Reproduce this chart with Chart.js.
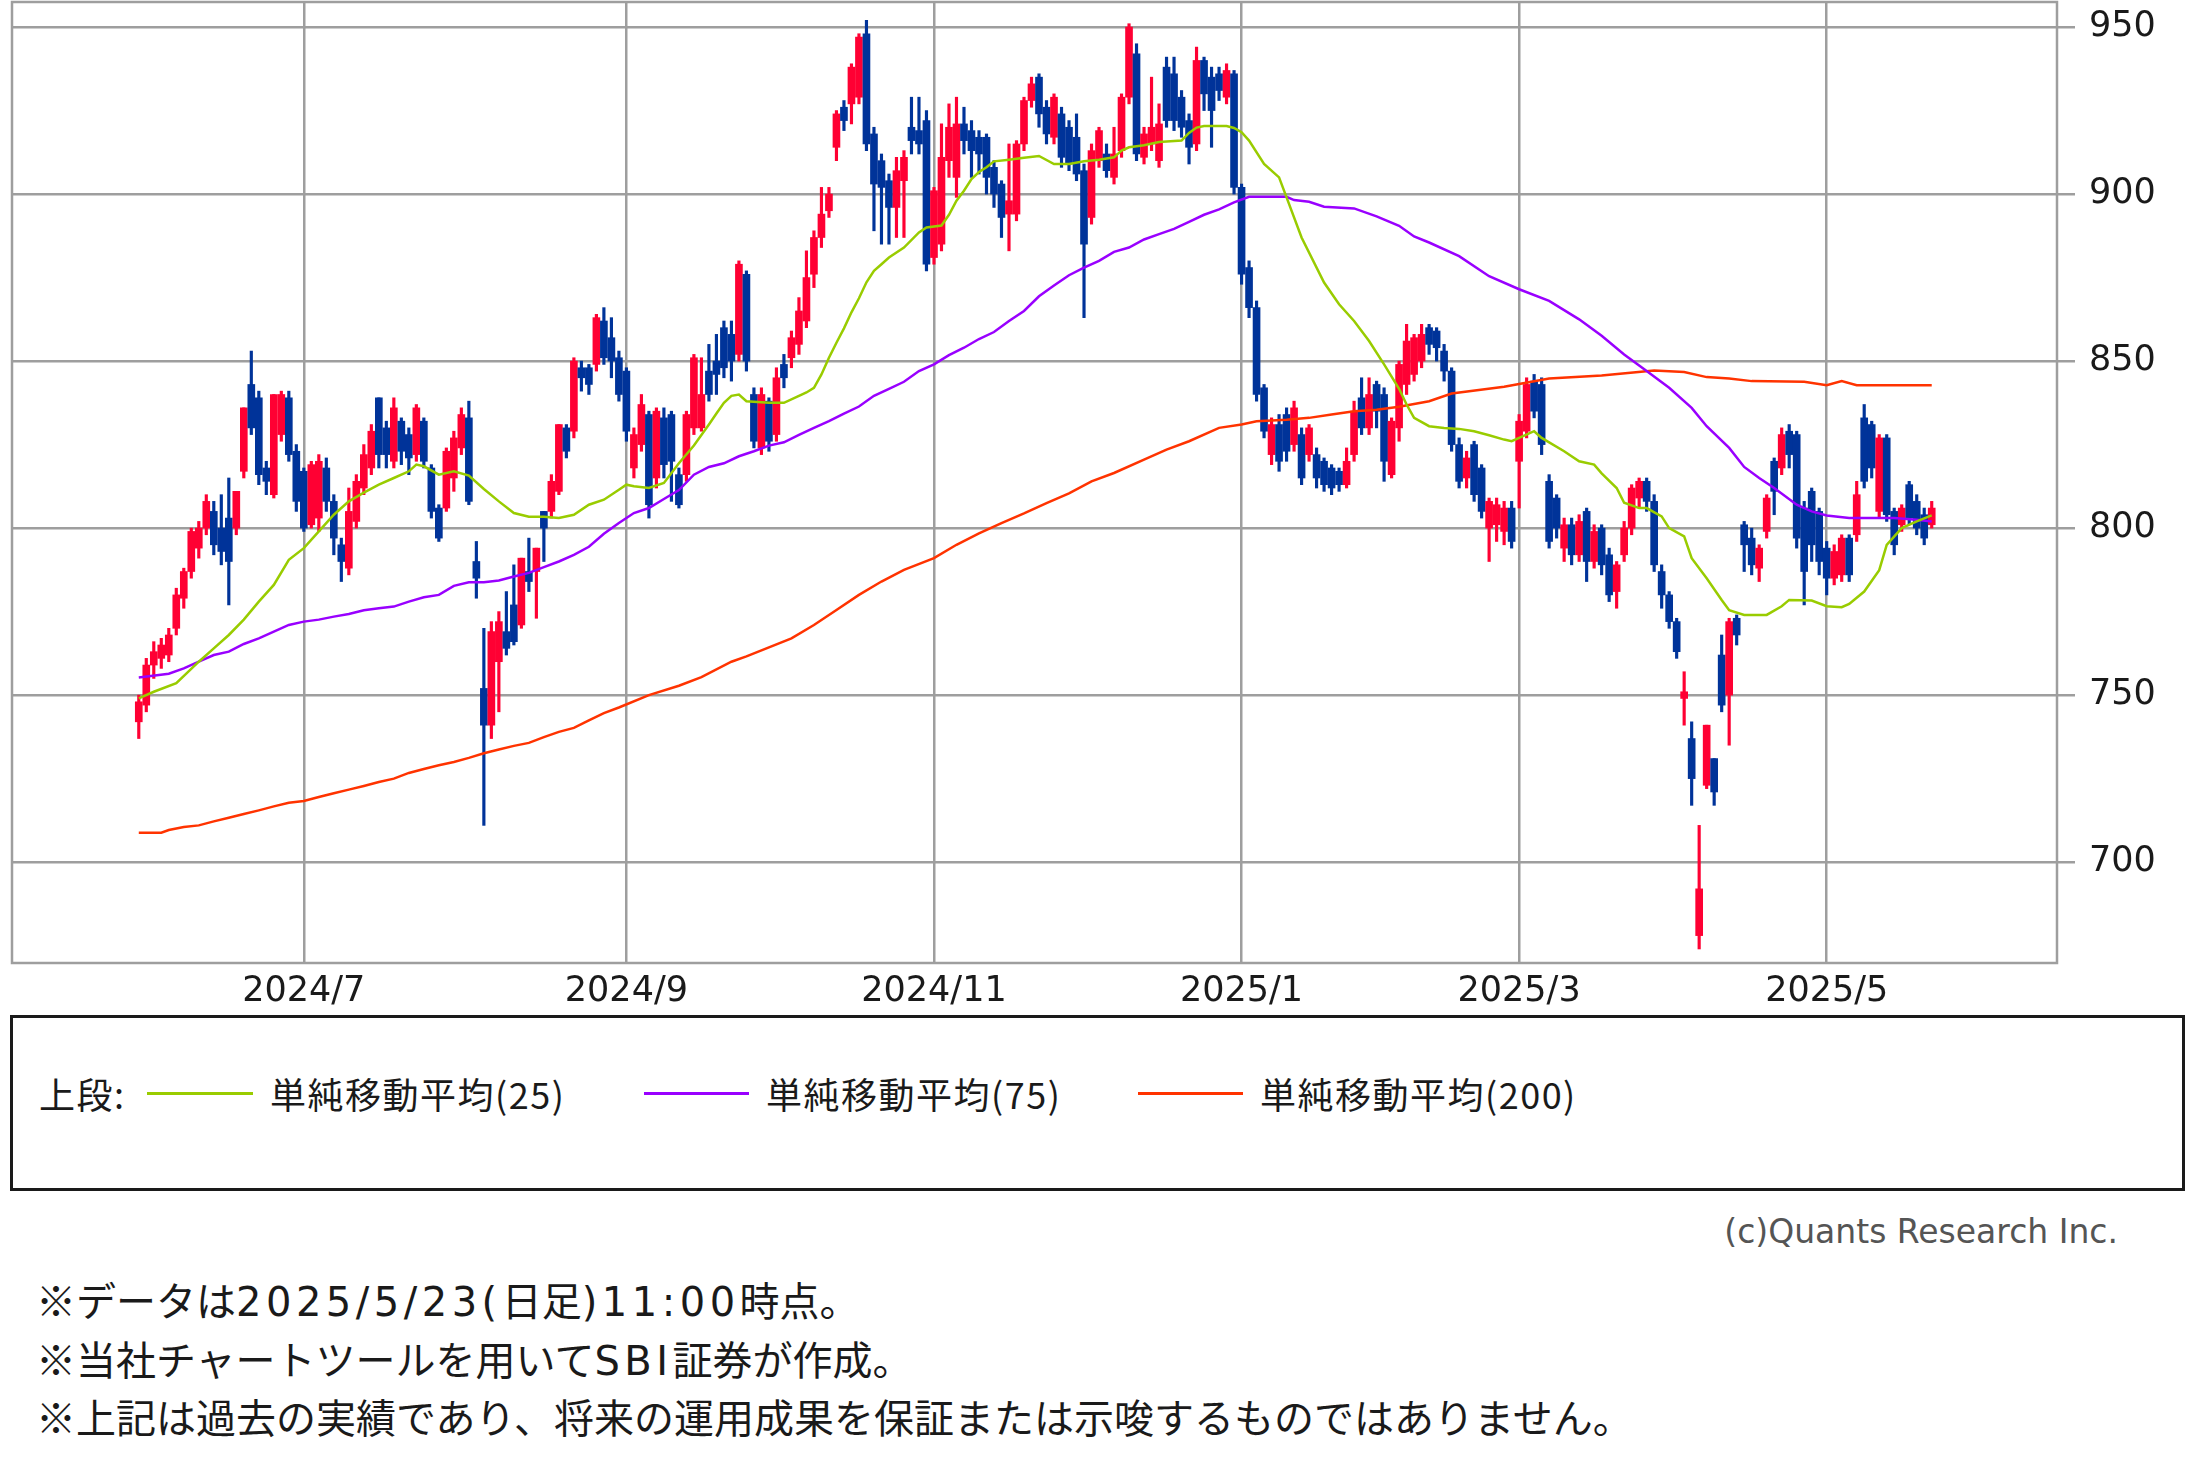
<!DOCTYPE html>
<html lang="ja">
<head>
<meta charset="utf-8">
<script src="https://cdn.jsdelivr.net/npm/chart.js@4.4.1/dist/chart.umd.min.js"></script>
<style>
  html, body { margin: 0; padding: 0; background: #fff; }
  body { width: 2193px; height: 1483px; position: relative; overflow: hidden; }
  #wrap { position: absolute; left: 0; top: 0; width: 2193px; height: 1010px; }
  .abs { position: absolute; white-space: nowrap; }
  #legendBox { position: absolute; left: 10px; top: 1015px; width: 2175px; height: 176px;
               box-sizing: border-box; border: 3px solid #1a1a1a; }
  .lg { font-family: "Noto Sans CJK JP", sans-serif; font-size: 36px; color: #1a1a1a;
        line-height: 44px; top: 1071px; letter-spacing: 1.5px; }
  .sw { height: 3px; top: 1092px; }
  #copy { font-family: "DejaVu Sans", sans-serif; font-size: 33px; color: #555;
          right: 75px; top: 1212px; line-height: 40px; }
  #notes { left: 36px; top: 1272px; font-family: "Noto Sans CJK JP", sans-serif;
           font-size: 40px; line-height: 55.5px; color: #1a1a1a; }
  #notes .lat { font-family: "DejaVu Sans", sans-serif; letter-spacing: 4.5px; }
</style>
</head>
<body>
<div id="wrap"><canvas id="c" width="2193" height="1010"></canvas></div>

<div id="legendBox"></div>
<div class="abs lg" style="left:39px">上段:</div>
<div class="abs sw" style="left:147px;width:106px;background:#99cc00"></div>
<div class="abs lg" style="left:270px">単純移動平均(25)</div>
<div class="abs sw" style="left:644px;width:105px;background:#9900ff"></div>
<div class="abs lg" style="left:766px">単純移動平均(75)</div>
<div class="abs sw" style="left:1138px;width:105px;background:#ff3300"></div>
<div class="abs lg" style="left:1260px">単純移動平均(200)</div>

<div id="copy" class="abs">(c)Quants Research Inc.</div>

<div id="notes" class="abs">
  <div>※データは<span class="lat">2025/5/23(</span>日足<span class="lat">)11:00</span>時点。</div>
  <div>※当社チャートツールを用いて<span class="lat">SBI</span>証券が作成。</div>
  <div>※上記は過去の実績であり、将来の運用成果を保証または示唆するものではありません。</div>
</div>

<script>
// daily candles, trading day index 0 = 2024/5/30 ... 239 = 2025/5/23
const opens = [
  742, 747, 759, 761, 762, 770, 779, 787, 794, 800,
  805, 800, 803, 800, 817, 843, 839, 818, 810, 828,
  839, 823, 817, 801, 803, 818, 808, 795, 788, 802,
  812, 818, 839, 830, 820, 832, 828, 822, 832, 818,
  806, 806, 815, 824, 833, 790, 752, 741, 760, 769,
  777, 771, 787, 787, 805, 805, 811, 830, 829, 848,
  848, 849, 862, 857, 851, 847, 818, 825, 834, 815,
  833, 834, 816, 816, 830, 830, 847, 850, 860, 858,
  852, 876, 840, 824, 838, 828, 849, 851, 855, 862,
  876, 887, 895, 914, 926, 927, 929, 948, 918, 910,
  904, 896, 904, 920, 919, 922, 881, 885, 910, 905,
  921, 919, 917, 917, 908, 903, 894, 894, 915, 928,
  935, 926, 917, 924, 920, 917, 907, 893, 910, 912,
  905, 913, 929, 942, 911, 915, 910, 938, 936, 929,
  922, 915, 940, 935, 936, 929, 936, 902, 878, 866,
  842, 822, 831, 834, 825, 828, 822, 822, 820, 818,
  817, 813, 822, 839, 830, 843, 840, 816, 830, 843,
  846, 850, 860, 859, 853, 847, 825, 815, 825, 818,
  800, 801, 799, 806, 820, 829, 844, 843, 814, 809,
  794, 801, 792, 805, 790, 800, 792, 781, 792, 800,
  809, 814, 808, 787, 780, 772, 749, 737, 678, 723,
  731, 762, 750, 773, 801, 797, 788, 799, 820, 818,
  829, 828, 806, 811, 805, 794, 785, 786, 797, 798,
  833, 831, 805, 827, 805, 801, 813, 808, 804, 801
];
const highs = [
  750, 761, 766, 767, 770, 782, 788, 800, 802, 810,
  808, 810, 815, 811, 836, 853, 841, 820, 840, 841,
  841, 825, 818, 820, 822, 821, 810, 797, 812, 816,
  825, 831, 839, 832, 839, 833, 830, 837, 833, 819,
  807, 824, 829, 836, 838, 796, 770, 772, 775, 781,
  789, 791, 797, 794, 805, 816, 831, 831, 851, 850,
  849, 864, 866, 863, 853, 848, 830, 840, 835, 836,
  836, 835, 818, 835, 852, 851, 855, 858, 862, 862,
  880, 877, 842, 842, 839, 848, 852, 859, 869, 883,
  889, 902, 902, 925, 928, 939, 948, 952, 920, 912,
  906, 911, 913, 929, 929, 925, 902, 921, 927, 929,
  926, 922, 919, 918, 910, 904, 915, 916, 929, 935,
  936, 928, 930, 926, 922, 924, 909, 915, 920, 915,
  920, 930, 951, 945, 920, 935, 927, 941, 941, 931,
  924, 944, 941, 938, 938, 939, 937, 903, 880, 868,
  843, 833, 834, 836, 838, 830, 831, 824, 821, 819,
  818, 824, 838, 845, 845, 844, 842, 833, 850, 861,
  858, 861, 861, 860, 855, 848, 827, 823, 826, 819,
  809, 809, 808, 808, 834, 845, 846, 845, 816, 810,
  803, 803, 804, 806, 801, 801, 794, 790, 802, 813,
  815, 815, 810, 789, 781, 773, 757, 742, 711, 741,
  731, 768, 773, 774, 802, 800, 795, 810, 821, 830,
  831, 829, 808, 812, 806, 796, 795, 798, 798, 814,
  837, 832, 828, 828, 806, 807, 814, 810, 806, 808
];
const lows = [
  737, 745, 755, 758, 760, 768, 776, 785, 791, 798,
  792, 789, 777, 798, 815, 828, 813, 810, 809, 826,
  820, 805, 799, 800, 799, 805, 792, 784, 786, 800,
  810, 816, 818, 818, 818, 819, 816, 820, 818, 803,
  796, 805, 811, 822, 807, 779, 711, 737, 745, 762,
  765, 770, 781, 773, 790, 803, 810, 821, 827, 841,
  840, 847, 849, 845, 838, 826, 815, 823, 803, 812,
  815, 808, 806, 814, 828, 829, 838, 840, 845, 844,
  850, 847, 824, 822, 823, 826, 842, 848, 852, 860,
  872, 884, 893, 910, 919, 921, 927, 913, 889, 885,
  885, 887, 887, 912, 912, 877, 879, 883, 905, 899,
  912, 905, 906, 900, 896, 887, 883, 892, 913, 926,
  920, 915, 915, 908, 907, 904, 863, 891, 908, 905,
  903, 911, 927, 910, 909, 913, 908, 920, 919, 917,
  909, 913, 925, 914, 928, 927, 900, 873, 863, 838,
  827, 819, 817, 820, 823, 813, 820, 812, 811, 810,
  811, 812, 820, 828, 828, 830, 814, 815, 826, 840,
  844, 848, 852, 850, 844, 823, 812, 812, 808, 803,
  790, 796, 795, 794, 806, 827, 833, 822, 794, 797,
  790, 789, 790, 784, 788, 786, 778, 776, 790, 798,
  806, 805, 787, 776, 770, 761, 741, 717, 674, 722,
  717, 745, 735, 765, 787, 786, 784, 797, 804, 816,
  818, 794, 777, 790, 786, 780, 783, 784, 784, 796,
  812, 815, 803, 802, 792, 799, 801, 798, 795, 800
];
const closes = [
  748, 759, 763, 765, 768, 780, 787, 799, 800, 808,
  795, 793, 790, 811, 836, 830, 816, 814, 840, 840,
  822, 808, 800, 819, 820, 808, 797, 790, 805, 814,
  822, 829, 822, 822, 836, 823, 821, 836, 820, 805,
  797, 823, 827, 834, 808, 785, 741, 769, 772, 764,
  766, 791, 784, 794, 800, 814, 831, 823, 850, 845,
  843, 863, 851, 850, 840, 829, 828, 837, 807, 835,
  819, 820, 807, 834, 851, 840, 840, 846, 848, 850,
  879, 850, 826, 840, 826, 845, 845, 857, 865, 875,
  887, 894, 900, 924, 922, 938, 947, 915, 903, 902,
  896, 907, 911, 916, 915, 879, 901, 911, 920, 921,
  916, 913, 912, 905, 900, 893, 898, 915, 928, 933,
  924, 918, 929, 911, 909, 906, 885, 913, 919, 907,
  912, 929, 950, 912, 918, 920, 921, 922, 922, 920,
  914, 940, 930, 925, 931, 937, 902, 876, 866, 840,
  829, 831, 820, 823, 836, 815, 830, 815, 813, 812,
  813, 820, 835, 830, 840, 835, 820, 832, 849, 856,
  857, 858, 855, 854, 847, 825, 814, 821, 810, 805,
  808, 807, 806, 796, 832, 843, 835, 825, 796, 800,
  801, 792, 802, 790, 799, 789, 780, 789, 800, 812,
  814, 808, 789, 780, 772, 763, 751, 725, 692, 741,
  721, 747, 772, 768, 795, 789, 794, 809, 811, 828,
  822, 797, 787, 795, 790, 785, 793, 797, 786, 810,
  814, 818, 827, 804, 795, 806, 803, 800, 797, 806
];

// moving averages at these trading day indices
const ma25Idx = [0, 2, 5, 8, 10, 12, 14, 16, 18, 20, 22, 24, 26, 28, 30, 32, 34, 36, 37, 38,
  40, 42, 44, 46, 48, 50, 52, 54, 56, 58, 60, 62, 64, 65, 66, 68, 70, 72, 74, 76,
  77, 78, 79, 80, 81, 84, 86, 88, 89, 90, 91, 92, 93, 94, 95, 96, 97, 98, 99, 100,
  102, 104, 105, 107, 108, 109, 110, 111, 112, 113, 114, 116, 118, 120, 122, 124, 126, 128, 130, 131,
  132, 134, 136, 139, 140, 141, 142, 145, 146, 147, 148, 150, 152, 153, 155, 158, 160, 162, 164, 166,
  168, 169, 170, 172, 174, 176, 178, 180, 182, 183, 184, 186, 187, 190, 192, 194, 195, 197, 198, 200,
  201, 203, 204, 206, 207, 209, 211, 212, 214, 217, 219, 220, 223, 225, 227, 228, 230, 232, 233, 235,
  237, 239];
const ma25 = [749, 751, 753.6, 760, 764, 768, 772.6, 778, 783, 790.5, 794, 799, 804, 808, 810.6, 813, 815, 817, 819, 818.5,
  816, 817, 815.7, 811.7, 808, 804.5, 803.4, 803.4, 803, 804, 807, 808.5, 811.5, 813, 812.5, 812, 813.5, 819.4, 824.7, 831,
  834.3, 837.5, 839.6, 840, 838, 837.5, 837.5, 839.6, 840.6, 842, 846, 851, 855.5, 859.8, 864.6, 868.8, 873.6, 877, 879, 881,
  884, 888.5, 890, 890.6, 893.8, 898, 901, 904.5, 906.6, 908, 909.8, 910.3, 910.9, 911.4, 909, 909, 909.8, 910.3, 911, 913,
  914, 914.6, 915.6, 916, 918.3, 919.9, 920.4, 920.4, 919.8, 918.5, 916, 909, 905, 899, 887, 873.5, 867, 862, 856, 849,
  841.7, 837, 833, 830.5, 830, 829.7, 829, 827.8, 826.5, 826, 827, 829, 827, 823, 820, 819, 816.4, 812, 807.6, 806,
  806, 803.5, 800, 797.5, 791, 785, 778.5, 775.4, 774, 774, 776.6, 778.5, 778.3, 776.6, 776.3, 777.3, 781, 787.4, 795, 800,
  802, 803.8];

const ma75Idx = [0, 4, 6, 8, 10, 12, 14, 16, 18, 20, 22, 24, 26, 28, 30, 32, 34, 36, 38, 40,
  42, 44, 46, 48, 50, 52, 54, 56, 58, 60, 62, 64, 66, 68, 70, 72, 74, 76, 78, 80,
  82, 84, 86, 88, 90, 92, 94, 96, 98, 100, 102, 104, 106, 108, 110, 112, 114, 116, 118, 120,
  122, 124, 126, 128, 130, 132, 134, 136, 138, 140, 142, 144, 146, 148, 153, 154, 156, 158, 162, 165,
  168, 170, 172, 176, 180, 184, 188, 192, 195, 198, 201, 204, 207, 209, 212, 214, 216, 218, 221, 223,
  225, 228, 234, 237, 239];
const ma75 = [755.3, 756.4, 758, 760, 762, 763, 765.3, 767, 769, 771, 772, 772.6, 773.5, 774.3, 775.4, 776, 776.5, 778, 779.3, 780,
  782.7, 783.8, 783.8, 784.3, 785.5, 786.6, 788.3, 790, 792, 794.4, 798.3, 801.5, 804.5, 806, 808.7, 811.4, 816, 818.3, 819.4, 821.5,
  823, 824.7, 825.7, 827.9, 830, 832, 834.3, 836.4, 839.6, 841.7, 843.8, 847, 849, 851.8, 854, 856.6, 858.7, 862, 865, 869.4,
  872.6, 875.7, 878, 880, 882.7, 884, 886.4, 888, 889.6, 891.7, 893.8, 895.4, 897.5, 899.2, 899.2, 898.2, 897.7, 896.2, 895.7, 893.3,
  890.5, 887.3, 885.5, 881.4, 875.4, 871.5, 868, 862.5, 857.6, 852, 847, 842, 836, 830.5, 824, 818.3, 815, 812, 807, 805,
  803.8, 803, 803, 802.5, 802];

const ma200Idx = [0, 3, 4, 6, 8, 10, 12, 14, 16, 18, 20, 22, 24, 26, 28, 30, 32, 34, 36, 38,
  40, 42, 44, 46, 48, 50, 52, 54, 56, 58, 60, 62, 64, 68, 72, 75, 79, 81, 87, 90,
  93, 96, 99, 102, 106, 109, 112, 115, 118, 121, 124, 127, 130, 134, 137, 140, 144, 147, 149, 153,
  156, 159, 162, 165, 168, 172, 175, 182, 188, 195, 202, 206, 209, 212, 215, 222, 225, 227, 229, 239];
const ma200 = [708.8, 708.8, 709.6, 710.5, 711, 712.2, 713.3, 714.4, 715.5, 716.7, 717.8, 718.3, 719.5, 720.6, 721.7, 722.8, 724, 725, 726.7, 727.9,
  729, 730, 731.2, 732.6, 733.7, 734.8, 735.7, 737.4, 739, 740.2, 742.4, 744.6, 746.3, 750, 752.8, 755.4, 760, 761.6, 767, 771,
  775.5, 780, 784, 787.5, 791, 795, 798.4, 801.5, 804.4, 807.5, 810.4, 814, 816.5, 820.5, 823.5, 826, 830, 831, 832, 832.4,
  833, 834, 835, 835.4, 836.3, 838, 840.3, 842.3, 844.8, 845.7, 847.2, 846.7, 845.2, 844.8, 844, 843.8, 842.8, 844, 842.8, 842.8];

// axis ticks
const monthIdx = [22, 65, 106, 147, 184, 225];
const monthLabels = ['2024/7', '2024/9', '2024/11', '2025/1', '2025/3', '2025/5'];
const priceTicks = [700, 750, 800, 850, 900, 950];

const RED = '#ff0033', BLUE = '#003399', GRID = '#9e9e9e';
const axisFont = { family: 'DejaVu Sans', size: 35 };

const candleColor = opens.map((o, i) => (closes[i] >= o ? RED : BLUE));
const wicks = opens.map((o, i) => ({ x: i, y: [lows[i], highs[i]] }));
const bodies = opens.map((o, i) => ({ x: i, y: [o, closes[i]] }));
const pts = (idx, vals) => idx.map((x, k) => ({ x: x, y: vals[k] }));

const maLine = (data, color) => ({
  type: 'line', data: data, borderColor: color, borderWidth: 2.5,
  pointRadius: 0, tension: 0, fill: false, order: 0
});

// plot frame (top and left edges are not drawn by the axes)
const framePlugin = {
  id: 'frame',
  beforeDatasetsDraw(chart) {
    const { ctx, chartArea: a } = chart;
    ctx.save();
    ctx.strokeStyle = GRID;
    ctx.lineWidth = 2.5;
    ctx.strokeRect(a.left, a.top, a.right - a.left, a.bottom - a.top);
    ctx.restore();
  }
};

new Chart(document.getElementById('c'), {
  type: 'bar',
  data: {
    datasets: [
      maLine(pts(ma25Idx, ma25), '#99cc00'),
      maLine(pts(ma75Idx, ma75), '#9900ff'),
      maLine(pts(ma200Idx, ma200), '#ff3300'),
      { data: bodies, backgroundColor: candleColor, barThickness: 7, minBarLength: 2,
        grouped: false, borderWidth: 0, order: 1 },
      { data: wicks, backgroundColor: candleColor, barThickness: 2.5,
        grouped: false, borderWidth: 0, order: 2 }
    ]
  },
  options: {
    responsive: false, animation: false, devicePixelRatio: 1,
    layout: { padding: { left: 12, top: 2, right: 0, bottom: 0 } },
    plugins: { legend: { display: false }, tooltip: { enabled: false } },
    scales: {
      x: {
        type: 'linear', min: -16.9, max: 255.7, offset: false,
        afterBuildTicks: s => { s.ticks = monthIdx.map(v => ({ value: v })); },
        afterFit: s => { s.height = 47; s.paddingLeft = 0; s.paddingRight = 0; },
        ticks: { callback: (v, i) => monthLabels[i], font: axisFont, color: '#1a1a1a',
                 padding: 8, maxRotation: 0, autoSkip: false },
        grid: { color: GRID, lineWidth: 2.5, drawTicks: false, offset: false },
        border: { display: false }
      },
      y: {
        position: 'right', min: 669.8, max: 957.5,
        afterBuildTicks: s => { s.ticks = priceTicks.map(v => ({ value: v })); },
        afterFit: s => { s.width = 136; s.paddingTop = 0; s.paddingBottom = 0; },
        ticks: { font: axisFont, color: '#1a1a1a', padding: 14 },
        grid: { color: GRID, lineWidth: 2.5, tickLength: 18 },
        border: { display: false }
      }
    }
  },
  plugins: [framePlugin]
});
</script>
</body>
</html>
